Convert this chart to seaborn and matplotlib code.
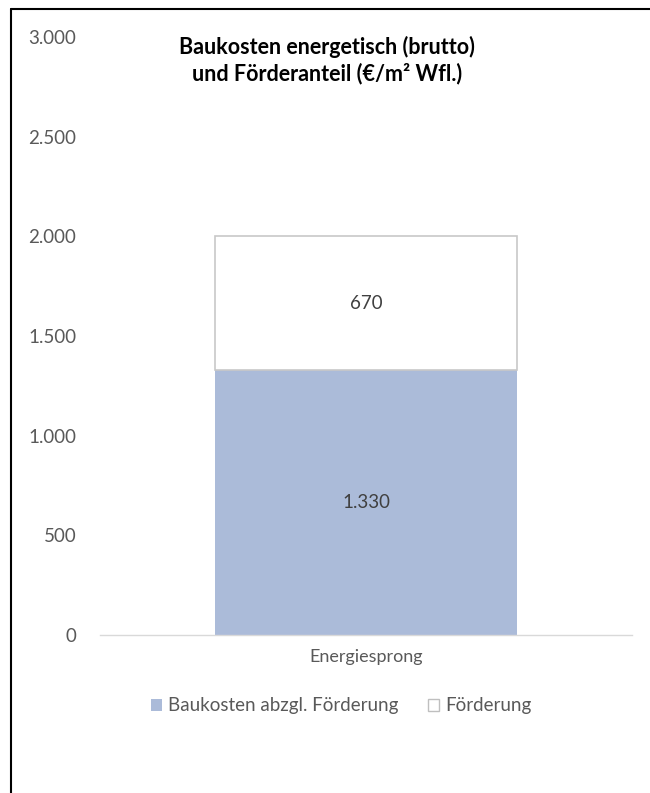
import matplotlib
matplotlib.use("Agg")
import matplotlib.pyplot as plt
import seaborn as sns
import pandas as pd
from matplotlib.lines import Line2D
from matplotlib.patches import Patch

categories = ["Energiesprong"]
baukosten = [1330]
foerderung = [670]
tick_values = [0, 500, 1000, 1500, 2000, 2500, 3000]
tick_labels = ["0", "500", "1.000", "1.500", "2.000", "2.500", "3.000"]
title = "Baukosten energetisch (brutto)\nund Förderanteil (€/m² Wfl.)"
series_names = ["Baukosten abzgl. Förderung", "Förderung"]

sns.set_theme(style="white")
plt.rcParams["font.family"] = ["Lato", "DejaVu Sans"]

BLUE = "#abbbd9"
GRAY_TXT = "#595959"

df = pd.DataFrame({"cat": categories, "base": baukosten, "foe": foerderung})

fig = plt.figure(figsize=(6.5, 7.93), dpi=100)
ax = fig.add_axes([100/650, 1 - 635/793, 532/650, 598/793])

sns.barplot(data=df, x="cat", y="base", color=BLUE, width=0.568, ax=ax,
            saturation=1, edgecolor="none", linewidth=0)
ax.bar(df["cat"], df["foe"], bottom=df["base"], width=0.568,
       color="white", edgecolor="#c8c8c8", linewidth=1.2, zorder=3)

ax.set_xlim(-0.5, 0.5)
ax.set_ylim(0, 3000)
ax.set_yticks(tick_values)
ax.set_yticklabels(tick_labels)
ax.tick_params(axis="y", length=0, pad=17, labelsize=13.5, labelcolor=GRAY_TXT)
ax.tick_params(axis="x", length=0, pad=10, labelsize=13, labelcolor=GRAY_TXT)
ax.set_xlabel("")
ax.set_ylabel("")
for s in ["top", "right", "left"]:
    ax.spines[s].set_visible(False)
ax.spines["bottom"].set_color("#d9d9d9")
ax.spines["bottom"].set_linewidth(1)

for i, (b, f) in enumerate(zip(baukosten, foerderung)):
    ax.text(i, b / 2, f"{b:,}".replace(",", "."), ha="center", va="center",
            fontsize=13.5, color="#404040")
    ax.text(i, b + f / 2, f"{f:,}".replace(",", "."), ha="center", va="center",
            fontsize=13.5, color="#404040", zorder=4)

fig.text(327/650, 1 - 60/793, title, ha="center", va="center", fontsize=15.5,
         fontweight="bold", color="black", linespacing=1.3)

handles = [Patch(facecolor=BLUE, edgecolor="none"),
           Patch(facecolor="white", edgecolor="#bfbfbf", linewidth=1)]
fig.legend(handles, series_names, loc="center", bbox_to_anchor=(341/650, 1 - 706/793),
           ncol=2, frameon=False, fontsize=13.5, labelcolor=GRAY_TXT,
           handlelength=0.6, handleheight=0.6, handletextpad=0.3, columnspacing=1.6)

fig.add_artist(Line2D([11/650, 1], [1 - 9/793, 1 - 9/793], color="black", linewidth=1.5,
                      transform=fig.transFigure))
fig.add_artist(Line2D([11/650, 11/650], [0, 1 - 9/793], color="black", linewidth=1.5,
                      transform=fig.transFigure))

fig.savefig("out.png", dpi=100)
